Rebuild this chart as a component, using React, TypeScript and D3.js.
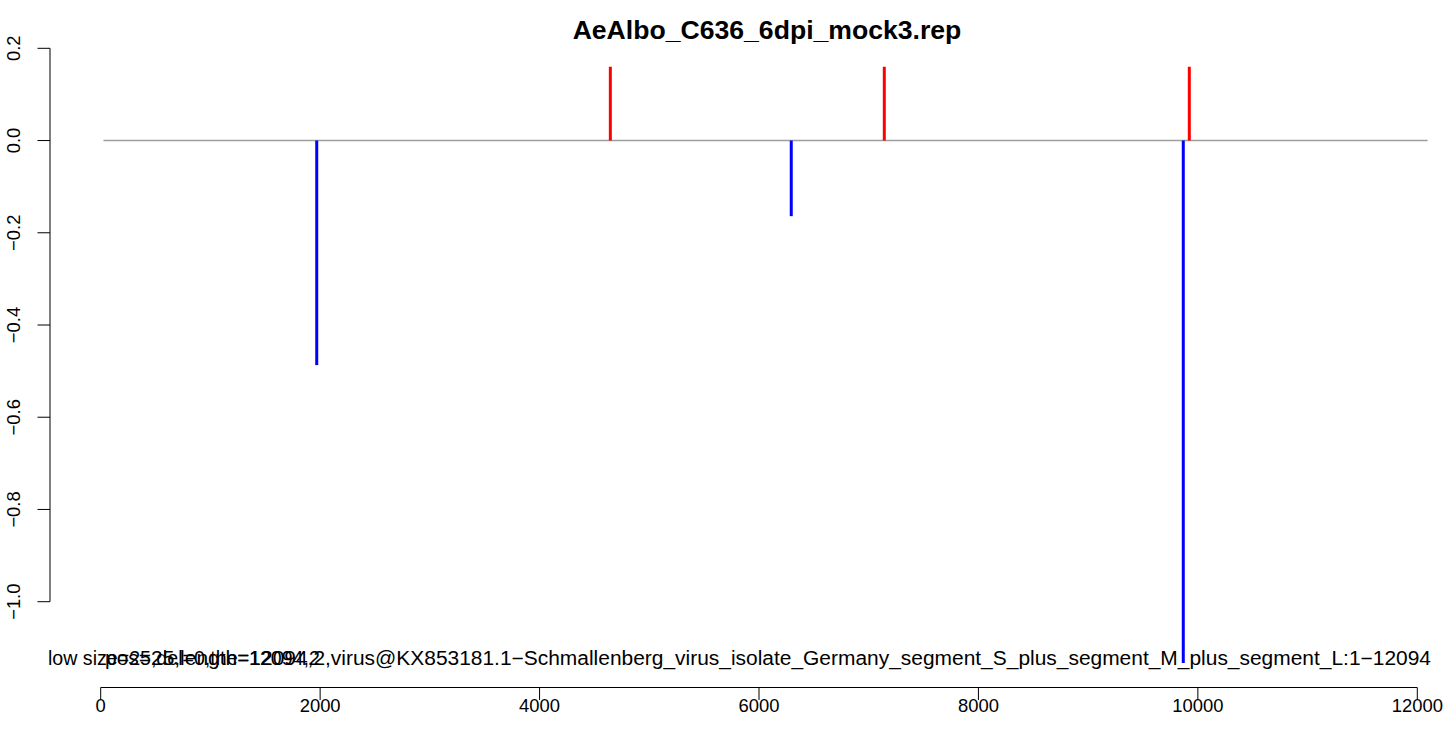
import React from "react";
import * as d3 from "d3";

const title = "AeAlbo_C636_6dpi_mock3.rep";
const plusPos = [4645, 7142, 9922];
const plusVal = [0.16, 0.16, 0.16];
const minusPos = [1969, 6294, 9867];
const minusVal = [-0.487, -0.164, -1.133];
const xTicks = [0, 2000, 4000, 6000, 8000, 10000, 12000];
const yTicks = [0.2, 0.0, -0.2, -0.4, -0.6, -0.8, -1.0];
const genomeLength = 12094;
const labelA = "low size=25,del=0,the=12094,2";
const labelB = "pos=25,length=12094,2,virus@KX853181.1\u2212Schmallenberg_virus_isolate_Germany_segment_S_plus_segment_M_plus_segment_L:1\u221212094";

const W = 1449;
const H = 738;

export default function App() {
  const x = d3.scaleLinear().domain([0, 12000]).range([100.7, 1417.3]);
  const y = d3.scaleLinear().domain([-1, 0.2]).range([601.7, 48.3]);
  const font = "'Liberation Sans', Arial, Helvetica, sans-serif";
  const fsTick = 18.4;
  const fsLab = 19.6;
  const fmtY = (v: number) => (v < 0 ? "\u2212" : "") + Math.abs(v).toFixed(1);
  const axisY = 687.5;
  const axisX = 50;
  return (
    <svg
      width={W}
      height={H}
      style={{ position: "absolute", left: 0, top: 0, background: "#fff" }}
      fontFamily={font}
    >
      <text x={767} y={39} textAnchor="middle" fontWeight="bold" fontSize={26.6}>
        {title}
      </text>
      <line x1={x(25)} x2={x(genomeLength)} y1={y(0)} y2={y(0)} stroke="#9e9e9e" strokeWidth={1.5} />
      {plusPos.map((p, i) => (
        <line key={"p" + i} x1={x(p)} x2={x(p)} y1={y(0)} y2={y(plusVal[i])} stroke="#ff0000" strokeWidth={3} />
      ))}
      {minusPos.map((p, i) => (
        <line key={"m" + i} x1={x(p)} x2={x(p)} y1={y(0)} y2={y(minusVal[i])} stroke="#0000ff" strokeWidth={3} />
      ))}
      <line x1={axisX} x2={axisX} y1={y(0.2)} y2={y(-1)} stroke="#000" strokeWidth={1} />
      {yTicks.map((t) => (
        <g key={t}>
          <line x1={axisX - 12.5} x2={axisX} y1={y(t)} y2={y(t)} stroke="#000" />
          <text
            transform={`translate(${axisX - 30},${y(t)}) rotate(-90)`}
            textAnchor="middle"
            fontSize={fsTick}
          >
            {fmtY(t)}
          </text>
        </g>
      ))}
      <line x1={x(0)} x2={x(12000)} y1={axisY} y2={axisY} stroke="#000" />
      {xTicks.map((t) => (
        <g key={t}>
          <line x1={x(t)} x2={x(t)} y1={axisY} y2={axisY + 12.5} stroke="#000" />
          <text x={x(t)} y={axisY + 24} textAnchor="middle" fontSize={fsTick}>
            {t}
          </text>
        </g>
      ))}
      <text x={48} y={664.5} fontSize={fsLab}>{labelA}</text>
      <text x={105} y={664.5} fontSize={fsLab} textLength={1326} lengthAdjust="spacingAndGlyphs">
        {labelB}
      </text>
    </svg>
  );
}
